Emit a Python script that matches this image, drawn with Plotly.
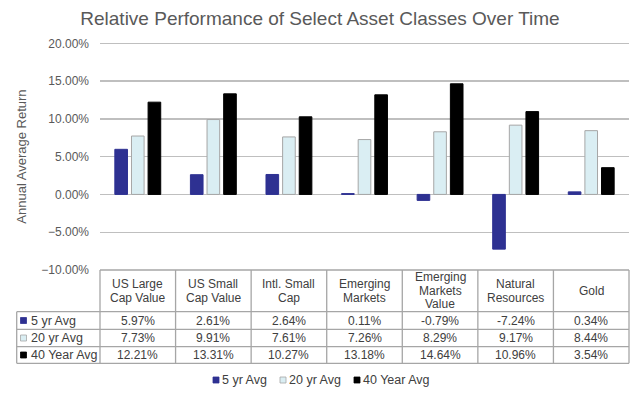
import plotly.graph_objects as go

# ---------------- data ----------------
categories = ["US Large Cap Value", "US Small Cap Value", "Intl. Small Cap",
              "Emerging Markets", "Emerging Markets Value", "Natural Resources", "Gold"]
header_labels = [["US Large", "Cap Value"], ["US Small", "Cap Value"], ["Intl. Small", "Cap"],
                 ["Emerging", "Markets"], ["Emerging", "Markets", "Value"],
                 ["Natural", "Resources"], ["Gold"]]
series_names = ["5 yr Avg", "20 yr Avg", "40 Year Avg"]
avg_5yr = [5.97, 2.61, 2.64, 0.11, -0.79, -7.24, 0.34]
avg_20yr = [7.73, 9.91, 7.61, 7.26, 8.29, 9.17, 8.44]
avg_40yr = [12.21, 13.31, 10.27, 13.18, 14.64, 10.96, 3.54]
y_ticks = [-0.10, -0.05, 0.0, 0.05, 0.10, 0.15, 0.20]

series_values = [avg_5yr, avg_20yr, avg_40yr]
fills = ["#2E3192", "#DAEEF3", "#000000"]
outlines = ["#2E3192", "#A6A6A6", "#000000"]

W, H = 640, 395
def px(x):
    return x / W
def py(y):
    return (H - y) / H

X0, X1 = 100, 629          # plot area pixel bounds
Y_TOP, Y_BOT = 43.3, 270   # pixel rows of 20% and -10%
PAD = 0.003                # headroom so the 20% gridline is drawn
px_per_unit = (Y_BOT - Y_TOP) / 0.30
Y_DOM_TOP = Y_TOP - PAD * px_per_unit

fig = go.Figure()
for name, vals, fc, lc in zip(series_names, series_values, fills, outlines):
    fig.add_trace(go.Bar(
        x=categories, y=[v / 100 for v in vals], name=name,
        marker=dict(color=fc, line=dict(color=lc, width=1)),
        showlegend=False, hoverinfo="skip"))

shapes = []
annotations = []
grid_col = "#A6A6A6"
txt_col = "#404040"
font_fam = "Liberation Sans, Arial, sans-serif"

N = len(categories)
col_w = (X1 - X0) / N
row_lines = [311.7, 329.3, 346.7, 363.3]
# horizontal table lines
shapes.append(dict(type="line", xref="paper", yref="paper", x0=px(X0), x1=px(X1),
                   y0=py(Y_BOT), y1=py(Y_BOT), line=dict(color=grid_col, width=1.3)))
for yl in row_lines:
    shapes.append(dict(type="line", xref="paper", yref="paper", x0=px(16.7), x1=px(X1),
                       y0=py(yl), y1=py(yl), line=dict(color=grid_col, width=1.3)))
# vertical table lines
shapes.append(dict(type="line", xref="paper", yref="paper", x0=px(16.7), x1=px(16.7),
                   y0=py(row_lines[0]), y1=py(row_lines[-1]), line=dict(color=grid_col, width=1.3)))
for i in range(N + 1):
    xx = px(X0 + i * col_w)
    shapes.append(dict(type="line", xref="paper", yref="paper", x0=xx, x1=xx,
                       y0=py(Y_BOT), y1=py(row_lines[-1]), line=dict(color=grid_col, width=1.3)))

# header labels
hdr_mid = (Y_BOT + row_lines[0]) / 2
line_h = 13.6
for cat, lines in zip(categories, header_labels):
    n = len(lines)
    for k, t in enumerate(lines):
        yc = hdr_mid + (k - (n - 1) / 2) * line_h
        annotations.append(dict(x=cat, xref="x", y=py(yc), yref="paper", text=t,
                                showarrow=False, xanchor="center", yanchor="middle",
                                font=dict(size=12, color=txt_col, family=font_fam)))

# rows
for r, (name, vals, fc, lc) in enumerate(zip(series_names, series_values, fills, outlines)):
    yc = (row_lines[r] + row_lines[r + 1]) / 2
    shapes.append(dict(type="rect", xref="paper", yref="paper",
                       x0=px(20.5), x1=px(26.5), y0=py(yc - 3), y1=py(yc + 3),
                       fillcolor=fc, line=dict(color=lc, width=0.8)))
    annotations.append(dict(x=px(29), xref="paper", y=py(yc), yref="paper", text=name,
                            showarrow=False, xanchor="left", yanchor="middle",
                            font=dict(size=12.5, color=txt_col, family=font_fam)))
    for cat, v in zip(categories, vals):
        annotations.append(dict(x=cat, xref="x", y=py(yc), yref="paper", text=f"{v:.2f}%",
                                showarrow=False, xanchor="center", yanchor="middle",
                                font=dict(size=12, color=txt_col, family=font_fam)))

# manual legend
leg_x = [213, 280, 354]
leg_y = 380
for name, fc, lc, lx in zip(series_names, fills, outlines, leg_x):
    shapes.append(dict(type="rect", xref="paper", yref="paper",
                       x0=px(lx), x1=px(lx + 6), y0=py(leg_y - 3), y1=py(leg_y + 3),
                       fillcolor=fc, line=dict(color=lc, width=0.8)))
    annotations.append(dict(x=px(lx + 6.5), xref="paper", y=py(leg_y), yref="paper", text=name,
                            showarrow=False, xanchor="left", yanchor="middle",
                            font=dict(size=12.5, color=txt_col, family=font_fam)))

# y axis title
annotations.append(dict(x=px(22), xref="paper", y=py((Y_TOP + Y_BOT) / 2), yref="paper",
                        text="Annual Average Return", textangle=-90, showarrow=False,
                        xanchor="center", yanchor="middle",
                        font=dict(size=13, color="#595959", family=font_fam)))

fig.update_layout(
    width=W, height=H,
    margin=dict(l=0, r=0, t=0, b=0, pad=0),
    paper_bgcolor="white", plot_bgcolor="white",
    barmode="group", bargap=0.34, bargroupgap=0.24,
    title=dict(text="Relative Performance of Select Asset Classes Over Time",
               x=0.5, xanchor="center", y=1 - 18 / H, yanchor="middle",
               font=dict(size=19, color="#595959", family=font_fam)),
    xaxis=dict(domain=[px(X0), px(X1)], showticklabels=False, showgrid=False,
               zeroline=False, showline=False, ticks="", automargin=False),
    yaxis=dict(domain=[py(Y_BOT), py(Y_DOM_TOP)], range=[-0.10, 0.20 + PAD],
               tickvals=y_ticks, tickformat=".2%", ticks="", ticklabelstandoff=10,
               showgrid=True, gridcolor="#BFBFBF", gridwidth=1.3,
               zeroline=True, zerolinecolor="#BFBFBF", zerolinewidth=1.3,
               showline=False, automargin=False,
               tickfont=dict(size=12, color="#595959", family=font_fam)),
    shapes=shapes, annotations=annotations,
    font=dict(family=font_fam),
)

post_js = (
    "var s='margin:0;padding:0;overflow:hidden;width:640px;height:395px;';"
    "document.documentElement.style.cssText=s;"
    "document.body.style.cssText=s;"
    "var gd=document.getElementById('{plot_id}');"
    "if(gd&&gd.parentElement){gd.parentElement.style.cssText=s;}"
    "if(gd){gd.style.display='block';}"
)

fig.write_html(
    "out.html",
    config={"displayModeBar": False, "staticPlot": True},
    post_script=post_js,
)
